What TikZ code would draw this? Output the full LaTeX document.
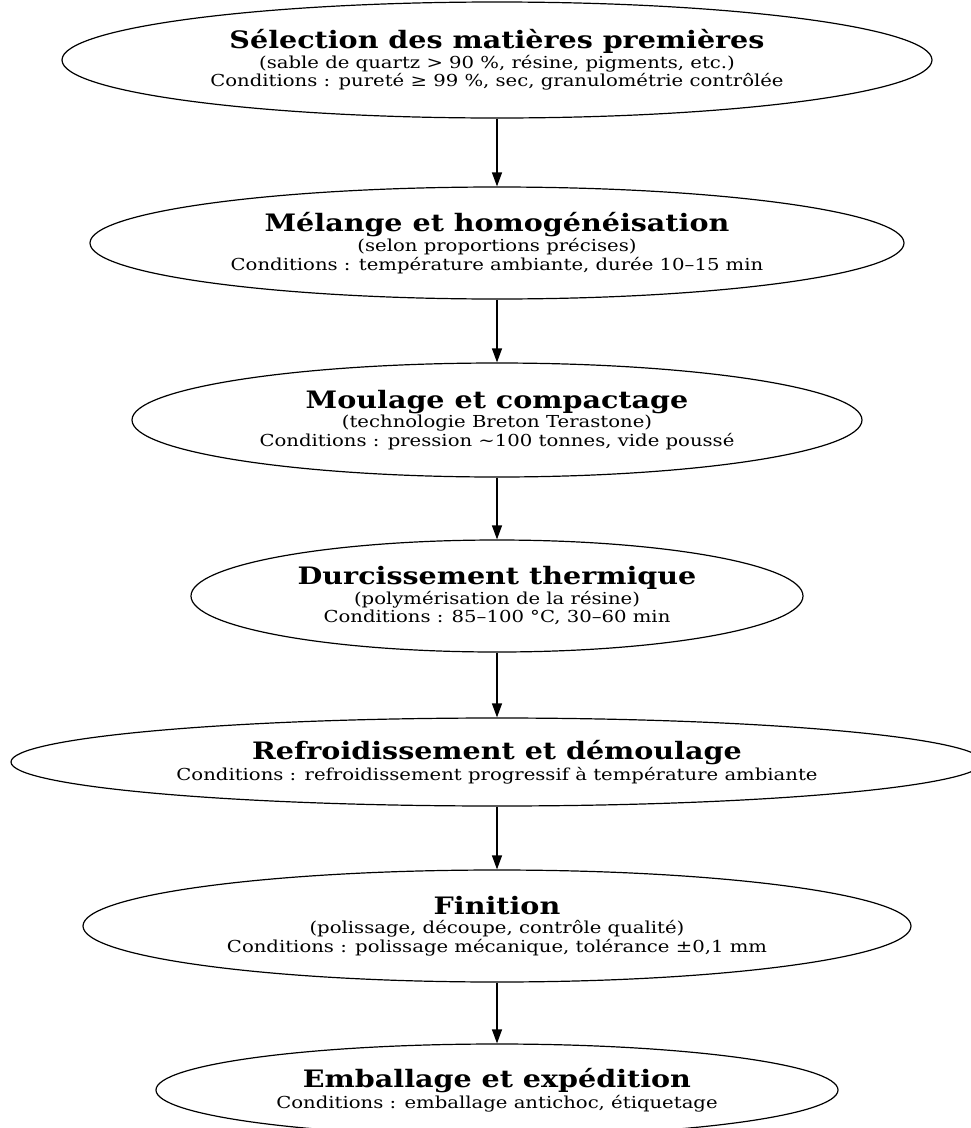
\documentclass[tikz,border=0pt]{standalone}
\usepackage{fontspec}
\setmainfont{DejaVu Serif}[FakeStretch=1.19]
\usetikzlibrary{shapes.geometric,arrows.meta}
\newcommand{\titre}[1]{{\fontsize{24}{26}\selectfont\bfseries #1}}
\begin{document}
\begin{tikzpicture}[x=1pt,y=-1pt,line join=round,line width=1.2pt,>={Triangle[length=14pt,width=10pt]}]
	\tikzset{etape/.style={draw,ellipse,inner sep=0pt,align=center,font=\fontsize{16.5}{18.5}\selectfont}}
	\useasboundingbox (0,0) rectangle (971,1128);
	\node[etape,minimum width=870pt,minimum height=116pt] (selection) at (497,60) {\titre{Sélection des matières premières}\\[1pt] (sable de quartz > 90 \%, résine, pigments, etc.)\\ Conditions : pureté ≥ 99 \%, sec, granulométrie contrôlée\rule[-3pt]{0pt}{0pt}};
	\node[etape,minimum width=814pt,minimum height=112pt] (melange) at (497,243) {\titre{Mélange et homogénéisation}\\[1pt] (selon proportions précises)\\ Conditions : température ambiante, durée 10–15 min\rule[-3pt]{0pt}{0pt}};
	\node[etape,minimum width=730pt,minimum height=114pt] (moulage) at (497,420) {\titre{Moulage et compactage}\\[1pt] (technologie Breton Terastone)\\ Conditions : pression \textasciitilde100 tonnes, vide poussé\rule[-3pt]{0pt}{0pt}};
	\node[etape,minimum width=612pt,minimum height=112pt] (durcissement) at (497,596) {\titre{Durcissement thermique}\\[1pt] (polymérisation de la résine)\\ Conditions : 85–100 °C, 30–60 min\rule[-3pt]{0pt}{0pt}};
	\node[etape,minimum width=972pt,minimum height=88pt] (refroidissement) at (497,762) {\titre{Refroidissement et démoulage}\\[1pt] Conditions : refroidissement progressif à température ambiante};
	\node[etape,minimum width=828pt,minimum height=112pt] (finition) at (497,926) {\titre{Finition}\\[1pt] (polissage, découpe, contrôle qualité)\\ Conditions : polissage mécanique, tolérance ±0,1 mm\rule[-3pt]{0pt}{0pt}};
	\node[etape,minimum width=682pt,minimum height=92pt] (emballage) at (497,1090) {\titre{Emballage et expédition}\\[1pt] Conditions : emballage antichoc, étiquetage};
	% enchainement des etapes
	\draw[->] (selection) -- (melange);
	\draw[->] (melange) -- (moulage);
	\draw[->] (moulage) -- (durcissement);
	\draw[->] (durcissement) -- (refroidissement);
	\draw[->] (refroidissement) -- (finition);
	\draw[->] (finition) -- (emballage);
\end{tikzpicture}
\end{document}
